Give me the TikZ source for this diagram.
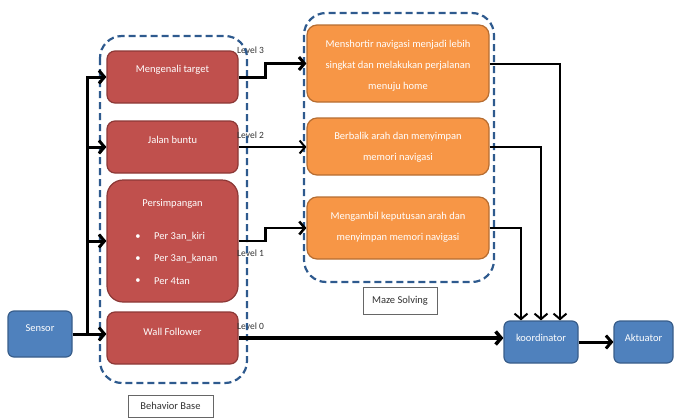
\documentclass[tikz,border=0pt]{standalone}
\usepackage{fontspec}
\setmainfont{Carlito}
\usetikzlibrary{arrows.meta,calc}
\definecolor{redf}{HTML}{C0504D}
\definecolor{redd}{HTML}{8C3836}
\definecolor{orf}{HTML}{F79646}
\definecolor{ord}{HTML}{B66D31}
\definecolor{blf}{HTML}{4F81BD}
\definecolor{bld}{HTML}{385D8A}
\definecolor{dashc}{HTML}{2E5A8E}
\begin{document}
\begin{tikzpicture}[x=1pt,y=-1pt,
  box/.style={line width=1.2pt, rounded corners=8pt, inner sep=0pt},
  redbox/.style={box, fill=redf, draw=redd, minimum width=131pt, minimum height=52pt},
  orbox/.style={box, fill=orf, draw=ord, minimum width=182pt, rounded corners=10pt},
  blbox/.style={box, fill=blf, draw=bld, rounded corners=6pt, minimum height=42pt},
  wtext/.style={text=white, font=\fontsize{10.5}{21}\selectfont, align=center, inner sep=0pt},
  lvl/.style={text=black!80, font=\fontsize{9.5}{11}\selectfont, inner sep=0pt},
  lbl/.style={draw=black!60, line width=0.8pt, fill=white, text=black!80, font=\fontsize{10.5}{12}\selectfont, inner sep=0pt},
  group/.style={draw=dashc, line width=2.2pt, dash pattern=on 7pt off 4pt, rounded corners=22pt},
  arr/.style={-{Straight Barb[length=5.5pt,width=13pt]}},
  thk/.style={line width=3pt},
  mid/.style={line width=2pt}
]
\useasboundingbox (0,0) rectangle (674,418);

% behavior boxes
\node[redbox] (target) at (172.5,77) {};
\node[wtext] (ttarget) at (172.5,70) {Mengenali target};
\node[redbox] (jalan) at (172.5,147) {};
\node[wtext] (tjalan) at (172.5,140) {Jalan buntu};
\node[redbox, minimum height=122pt, rounded corners=16pt] (simp) at (172.5,241) {};
\node[wtext] (tsimp) at (172.5,204) {Persimpangan};
\foreach \y/\t [count=\i] in {237/Per 3an\_kiri, 259/Per 3an\_kanan, 281/Per 4tan}{
  \node[wtext] (b\i) at (138,\y) {\textbullet};
  \node[wtext, anchor=west] (i\i) at (154,\y) {\t};
}
\node[redbox] (wall) at (172.5,338) {};
\node[wtext] (twall) at (172.5,332) {Wall Follower};

% maze solving boxes
\node[orbox, minimum height=77pt] (o1) at (398,63.5) {};
\node[wtext] (to1) at (398,66) {Menshortir navigasi menjadi lebih\\singkat dan melakukan perjalanan\\menuju home};
\node[orbox, minimum height=57pt] (o2) at (398,146.5) {};
\node[wtext] (to2) at (398,147) {Berbalik arah dan menyimpan\\memori navigasi};
\node[orbox, minimum height=62pt] (o3) at (398,228) {};
\node[wtext] (to3) at (398,227) {Mengambil keputusan arah dan\\menyimpan memori navigasi};

% blue boxes
\node[blbox, minimum width=64pt, minimum height=46pt] (sensor) at (40,334) {};
\node[wtext] (tsensor) at (40,328) {Sensor};
\node[blbox, minimum width=74pt] (koord) at (541,342) {};
\node[wtext] (tkoord) at (541,338) {koordinator};
\node[blbox, minimum width=59pt] (akt) at (643.5,342) {};
\node[wtext] (takt) at (643.5,338) {Aktuator};

% level labels
\node[lvl, anchor=west] (l3) at (237,50) {Level 3};
\node[lvl, anchor=west] (l2) at (237,135) {Level 2};
\node[lvl, anchor=west] (l1) at (237,253) {Level 1};
\node[lvl, anchor=west] (l0) at (237,326) {Level 0};

% group containers
\draw[group] (100,36) rectangle (247,383);
\draw[group] (304,13) rectangle (494,282);
\node[lbl, minimum width=85pt, minimum height=22pt] (bb) at (170.5,406) {Behavior Base};
\node[lbl, minimum width=74pt, minimum height=27pt] (ms) at (400,300.5) {Maze Solving};

% sensor connections
\coordinate (j) at (87,334);
\draw[thk, arr] (sensor.east) -- (wall.west |- sensor.east);
\draw[thk, arr] (j) |- (target.west);
\draw[thk, arr] (j) |- (jalan.west);
\draw[thk, arr] (j) |- (simp.west);

% levels
\draw[thk, arr] (target.east) -- ++(27,0) |- (o1.west);
\draw[mid, arr] (jalan.east) -- (jalan.east -| o2.west);
\draw[line width=2.5pt, arr] (simp.east) -- ++(27,0) |- (o3.west);
\draw[line width=3.5pt, arr] (wall.east) -- (wall.east -| koord.west);

% outputs
\draw[mid, arr] (o1.east) -| ($(koord.north)+(19,0)$);
\draw[mid, arr] (o2.east) -| (koord.north);
\draw[mid, arr] (o3.east) -| ($(koord.north)+(-20,0)$);
\draw[thk, arr] (koord.east) -- (akt.west);
\end{tikzpicture}
\end{document}
